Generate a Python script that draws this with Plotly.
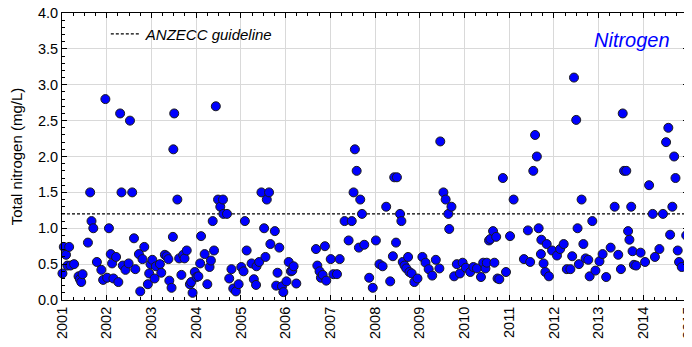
import plotly.graph_objects as go

# Sample dates (decimal years) and total nitrogen (mg/L)
years = [
    2001.01, 2001.04, 2001.09, 2001.12, 2001.16, 2001.19, 2001.27, 2001.37, 2001.40, 2001.43,
    2001.46, 2001.58, 2001.63, 2001.66, 2001.70, 2001.78, 2001.88, 2001.92, 2001.97, 2002.01,
    2002.05, 2002.09, 2002.12, 2002.15, 2002.21, 2002.26, 2002.30, 2002.33, 2002.36, 2002.42,
    2002.49, 2002.52, 2002.57, 2002.61, 2002.64, 2002.72, 2002.75, 2002.80, 2002.84, 2002.92,
    2002.95, 2002.98, 2003.02, 2003.07, 2003.10, 2003.19, 2003.22, 2003.30, 2003.34, 2003.38,
    2003.40, 2003.45, 2003.48, 2003.49, 2003.51, 2003.58, 2003.62, 2003.67, 2003.71, 2003.74,
    2003.79, 2003.86, 2003.89, 2003.92, 2003.97, 2004.01, 2004.05, 2004.09, 2004.11, 2004.19,
    2004.25, 2004.30, 2004.33, 2004.37, 2004.40, 2004.44, 2004.49, 2004.54, 2004.60, 2004.61,
    2004.69, 2004.74, 2004.79, 2004.83, 2004.89, 2004.95, 2005.01, 2005.06, 2005.09, 2005.13,
    2005.24, 2005.29, 2005.34, 2005.35, 2005.41, 2005.46, 2005.52, 2005.55, 2005.58, 2005.63,
    2005.66, 2005.76, 2005.79, 2005.82, 2005.86, 2005.92, 2005.95, 2006.02, 2006.07, 2006.12,
    2006.15, 2006.18, 2006.24, 2006.68, 2006.71, 2006.76, 2006.79, 2006.83, 2006.88, 2006.91,
    2007.01, 2007.07, 2007.15, 2007.21, 2007.32, 2007.41, 2007.48, 2007.52, 2007.55, 2007.59,
    2007.64, 2007.67, 2007.71, 2007.76, 2007.87, 2007.95, 2008.02, 2008.10, 2008.17, 2008.25,
    2008.34, 2008.40, 2008.43, 2008.47, 2008.49, 2008.56, 2008.59, 2008.62, 2008.66, 2008.70,
    2008.74, 2008.77, 2008.82, 2008.88, 2008.95, 2009.06, 2009.13, 2009.20, 2009.28, 2009.36,
    2009.44, 2009.46, 2009.53, 2009.58, 2009.64, 2009.66, 2009.71, 2009.77, 2009.83, 2009.90,
    2009.96, 2010.03, 2010.13, 2010.20, 2010.28, 2010.37, 2010.42, 2010.47, 2010.50, 2010.55,
    2010.58, 2010.64, 2010.67, 2010.71, 2010.74, 2010.78, 2010.86, 2010.93, 2011.02, 2011.10,
    2011.33, 2011.42, 2011.47, 2011.54, 2011.58, 2011.62, 2011.66, 2011.71, 2011.72, 2011.77,
    2011.81, 2011.84, 2011.89, 2011.96, 2012.07, 2012.14, 2012.22, 2012.29, 2012.37, 2012.41,
    2012.45, 2012.50, 2012.53, 2012.56, 2012.62, 2012.66, 2012.71, 2012.77, 2012.80, 2012.86,
    2012.93, 2013.02, 2013.09, 2013.17, 2013.27, 2013.36, 2013.44, 2013.50, 2013.54, 2013.57,
    2013.62, 2013.66, 2013.69, 2013.73, 2013.76, 2013.79, 2013.84, 2013.94, 2014.04, 2014.13,
    2014.21, 2014.26, 2014.36, 2014.44, 2014.51, 2014.56, 2014.60, 2014.65, 2014.69, 2014.72,
    2014.77, 2014.80, 2014.86, 2014.96,
]
nitrogen = [
    0.37, 0.74, 0.63, 0.48, 0.74, 0.48, 0.50, 0.33, 0.29, 0.25,
    0.36, 0.80, 1.50, 1.10, 1.00, 0.53, 0.42, 0.28, 2.80, 0.31,
    1.00, 0.64, 0.51, 0.30, 0.60, 0.25, 2.60, 1.50, 0.48, 0.42,
    0.51, 2.50, 1.50, 0.86, 0.43, 0.64, 0.12, 0.57, 0.74, 0.22,
    0.37, 0.50, 0.56, 0.30, 0.47, 0.50, 0.38, 0.63, 0.61, 0.57,
    0.27, 0.17, 0.88, 2.10, 2.60, 1.40, 0.58, 0.35, 0.63, 0.58,
    0.69, 0.22, 0.25, 0.10, 0.39, 0.32, 0.33, 0.51, 0.89, 0.64,
    0.22, 0.46, 0.55, 1.10, 0.69, 2.70, 1.40, 1.30, 1.40, 1.20,
    1.20, 0.30, 0.43, 0.16, 0.12, 0.22, 0.46, 0.40, 1.10, 0.69,
    0.51, 0.29, 0.21, 0.47, 0.53, 1.50, 1.00, 0.60, 1.40, 1.50,
    0.78, 0.96, 0.20, 0.38, 0.73, 0.19, 0.11, 0.26, 0.53, 0.40,
    0.41, 0.47, 0.23, 0.71, 0.48, 0.40, 0.31, 0.35, 0.75, 0.27,
    0.57, 0.36, 0.36, 0.57, 1.10, 0.83, 1.10, 1.50, 2.10, 1.80,
    0.73, 1.40, 1.20, 0.77, 0.31, 0.17, 0.83, 0.50, 0.47, 1.30,
    0.26, 0.61, 1.71, 0.80, 1.71, 1.20, 1.10, 0.53, 0.48, 0.44,
    0.60, 0.39, 0.37, 0.25, 0.30, 0.60, 0.52, 0.43, 0.34, 0.56,
    0.44, 2.21, 1.50, 1.40, 1.20, 0.99, 1.30, 0.33, 0.50, 0.37,
    0.52, 0.45, 0.39, 0.46, 0.44, 0.32, 0.52, 0.44, 0.52, 0.83,
    0.85, 0.96, 0.52, 0.88, 0.30, 0.29, 1.70, 0.39, 0.89, 1.40,
    0.57, 0.97, 0.53, 1.80, 2.30, 2.00, 1.00, 0.64, 0.84, 0.51,
    0.39, 0.78, 0.33, 0.69, 0.62, 0.71, 0.78, 0.43, 0.43, 0.61,
    3.10, 2.51, 1.00, 0.50, 1.40, 0.78, 0.58, 0.56, 0.33, 1.10,
    0.41, 0.54, 0.64, 0.32, 0.73, 1.30, 0.63, 0.43, 2.60, 1.80,
    1.80, 0.96, 0.84, 1.30, 0.68, 0.49, 0.48, 0.66, 0.53, 1.60,
    1.20, 0.60, 0.71, 1.20, 2.20, 2.40, 0.91, 1.30, 2.00, 1.70,
    0.69, 0.53, 0.46, 0.90,
]

guideline_value = 1.2
guideline_x = [2001, 2015]
year_ticks = list(range(2001, 2016))
y_ticks = [0.0, 0.5, 1.0, 1.5, 2.0, 2.5, 3.0, 3.5, 4.0]

FONT = "Liberation Sans, Arial, sans-serif"

fig = go.Figure()
fig.add_trace(go.Scatter(
    x=guideline_x, y=[guideline_value] * len(guideline_x),
    mode="lines", name="ANZECC guideline",
    line=dict(color="black", width=1.3, dash="3px,2px"),
))
fig.add_trace(go.Scatter(
    x=years, y=nitrogen, mode="markers", showlegend=False, cliponaxis=False,
    marker=dict(color="#0000FF", size=9, line=dict(color="#1a1a1a", width=1)),
))

fig.add_annotation(
    text="Nitrogen", xref="paper", yref="paper", x=0.975, y=0.905,
    xanchor="right", yanchor="middle", showarrow=False,
    font=dict(family=FONT, size=20, color="#0000FF", style="italic"),
)

# The page body adds an 8px margin, so the figure is 8px smaller than the window.
fig.update_layout(
    width=684, height=339,
    margin=dict(l=54, r=4, t=5, b=47, autoexpand=False),
    paper_bgcolor="white", plot_bgcolor="white",
    font=dict(family=FONT, size=14, color="black"),
    showlegend=True,
    legend=dict(
        x=0.07, y=0.984, xanchor="left", yanchor="top",
        bgcolor="rgba(0,0,0,0)", font=dict(family=FONT, size=15, style="italic"),
        itemwidth=30,
    ),
    xaxis=dict(
        range=[2001, 2015], tickvals=year_ticks, ticktext=[str(y) for y in year_ticks],
        tickangle=-90, showgrid=True, gridcolor="#d9d9d9", gridwidth=1,
        showline=True, linecolor="black", linewidth=1, mirror="allticks",
        ticks="inside", ticklen=5, tickcolor="black", zeroline=False, automargin=False,
        ticklabeloverflow="allow",
        minor=dict(ticks="inside", dtick=0.25, ticklen=3, tickcolor="black", showgrid=False),
        tickfont=dict(size=14.5),
    ),
    yaxis=dict(
        range=[0, 4.0], tickvals=y_ticks, tickformat=".1f",
        showgrid=True, gridcolor="#d9d9d9", gridwidth=1,
        showline=True, linecolor="black", linewidth=1, mirror="allticks",
        ticks="inside", ticklen=5, tickcolor="black", zeroline=False, automargin=False,
        ticklabeloverflow="allow",
        minor=dict(ticks="inside", dtick=0.1, ticklen=3, tickcolor="black", showgrid=False),
        title=dict(text="Total nitrogen (mg/L)", font=dict(size=15), standoff=15),
        tickfont=dict(size=14.5),
    ),
)

fig.write_html("out.html")
